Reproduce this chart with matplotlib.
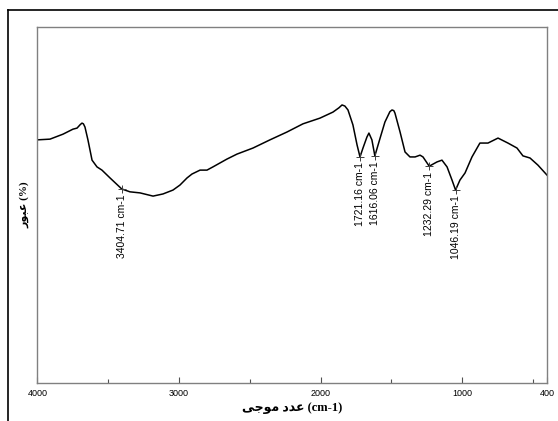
import matplotlib
matplotlib.use('Agg')
import matplotlib.pyplot as plt
from matplotlib.lines import Line2D
from matplotlib.ticker import FixedLocator

# wavenumber (cm-1) and transmittance (%)
wavenumber = [4000, 3911, 3819, 3749, 3720, 3697, 3685, 3675, 3664, 3643, 3614,
              3579, 3544, 3487, 3404, 3346, 3275, 3183, 3113, 3042, 2993, 2943,
              2908, 2851, 2802, 2760, 2661, 2590, 2477, 2357, 2237, 2124, 2004,
              1912, 1870, 1848, 1828, 1806, 1771, 1742, 1721, 1700, 1672, 1658,
              1637, 1616, 1579, 1545, 1510, 1495, 1482, 1474, 1438, 1403, 1368,
              1332, 1297, 1276, 1232, 1177, 1142, 1106, 1071, 1046, 1015, 979,
              930, 874, 817, 746, 676, 612, 570, 520, 464, 400]
transmittance = [68.3, 68.5, 69.9, 71.3, 71.6, 72.6, 73.0, 72.8, 71.9, 68.3, 62.6,
                 60.7, 59.8, 57.6, 54.5, 53.7, 53.4, 52.5, 53.1, 54.2, 55.6, 57.6,
                 58.7, 59.8, 59.8, 60.7, 62.9, 64.3, 66.0, 68.3, 70.5, 72.8, 74.4,
                 76.1, 77.3, 78.1, 77.8, 76.7, 72.5, 66.9, 63.5, 66.0, 69.1, 70.2,
                 68.3, 63.8, 68.8, 73.3, 76.2, 76.7, 76.5, 75.8, 70.5, 64.9, 63.5,
                 63.5, 64.0, 63.5, 60.9, 62.1, 62.6, 60.7, 57.0, 54.2, 57.0, 59.0,
                 63.5, 67.4, 67.4, 68.8, 67.4, 66.0, 63.8, 63.2, 61.2, 58.4]

peaks = [3404.71, 1721.16, 1616.06, 1232.29, 1046.19]
peak_T = [54.5, 63.5, 63.8, 60.9, 54.2]

tick_pos = [4000, 3000, 2000, 1000, 400]
tick_lab = ['4000', '3000', '2000', '1000', '400']
minor_pos = [3500, 2500, 1500, 500]

fig = plt.figure(figsize=(5.58, 4.21), dpi=100)
ax = fig.add_axes([37.4/558, 1-383/421, (547-37.4)/558, (383-27)/421])

ax.plot(wavenumber, transmittance, color='black', lw=1.1,
        solid_joinstyle='round')

for w, t in zip(peaks, peak_T):
    ax.plot([w], [t], marker='+', color='#404040', ms=6, mew=0.7)
    ax.annotate('%.2f cm-1' % w, xy=(w, t), xytext=(0, -4),
                textcoords='offset points', rotation=90, ha='center', va='top',
                fontsize=7.5, family='Liberation Sans')

ax.set_xlim(4000, 400)
ax.set_ylim(0, 100)
ax.set_xticks(tick_pos)
ax.set_xticklabels(tick_lab, family='Liberation Sans', fontsize=6.5)
ax.xaxis.set_minor_locator(FixedLocator(minor_pos))
ax.tick_params(axis='x', which='major', direction='in', length=4.5, width=0.8,
               color='#505050', pad=4)
ax.tick_params(axis='x', which='minor', direction='in', length=3, width=0.8,
               color='#505050')
ax.set_yticks([])
for s in ax.spines.values():
    s.set_color('#808080')
    s.set_linewidth(1.0)

# Arabic labels written with presentation forms in visual order
ax.set_xlabel('\uFBFD\uFE9F\uFEEE\uFEE3 \uFEA9\uFEAA\uFECB (cm-1)',
              family=['Liberation Serif', 'DejaVu Sans'], fontweight='bold',
              fontsize=9, labelpad=3)
ax.set_ylabel('\uFEAD\uFEEE\uFE92\uFECB (%)',
              family=['Liberation Serif', 'DejaVu Sans'], fontweight='bold',
              fontsize=8, labelpad=6)

# outer frame
fig.add_artist(Line2D([8/558, 8/558], [1-10/421, 0], transform=fig.transFigure,
                      color='black', lw=1.2))
fig.add_artist(Line2D([8/558, 1], [1-10/421, 1-10/421], transform=fig.transFigure,
                      color='black', lw=1.2))

fig.savefig('out.png', dpi=100)
